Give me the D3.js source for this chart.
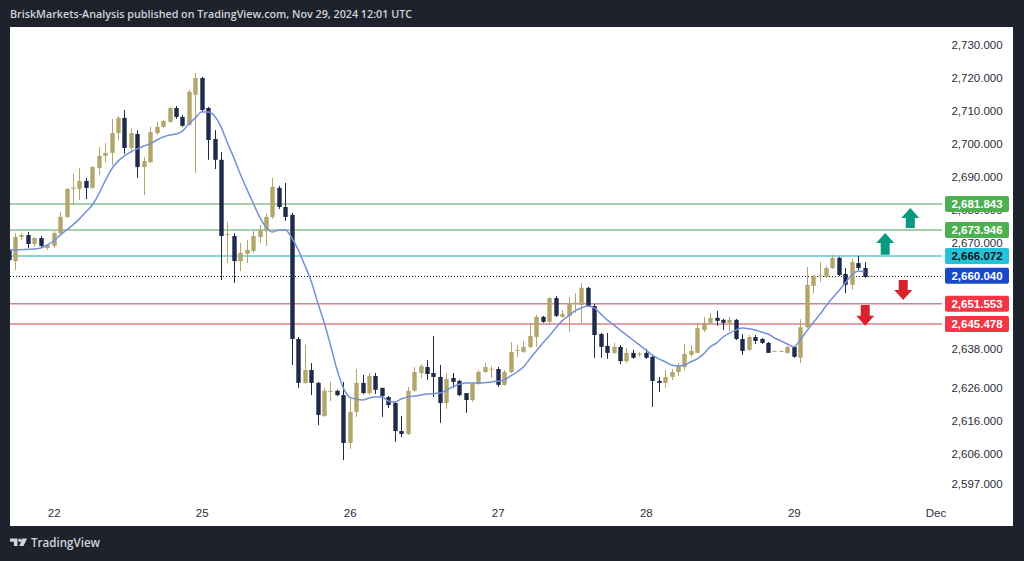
<!DOCTYPE html>
<html>
<head>
<meta charset="utf-8">
<script src="https://cdn.jsdelivr.net/npm/d3@7"></script>
<style>
  body { margin: 0; background: #1e222d; }
  svg { display: block; }
</style>
</head>
<body>
<div id="canvas"></div>
<script>
// hourly candles, XAUUSD-like
const opens = [
  2667.9, 2664.5, 2671.8, 2672.4, 2669.7, 2671.5, 2668.5, 2669.1, 2673.0, 2677.9,
  2686.4, 2686.4, 2688.8, 2686.7, 2692.7, 2696.4, 2697.3, 2703.3, 2707.9, 2698.8,
  2703.0, 2693.0, 2694.5, 2703.3, 2705.2, 2706.7, 2710.9, 2708.2, 2705.8, 2714.9,
  2720.0, 2710.9, 2701.5, 2695.2, 2672.4, 2672.1, 2664.5, 2666.7, 2667.6, 2671.8,
  2673.6, 2677.9, 2686.7, 2680.9, 2678.5, 2640.9, 2627.6, 2631.5, 2627.6, 2617.6,
  2624.9, 2625.2, 2623.9, 2609.4, 2618.8, 2627.6, 2624.5, 2629.7, 2626.1, 2623.3,
  2621.5, 2613.0, 2612.1, 2625.2, 2630.6, 2632.4, 2630.6, 2629.4, 2621.5, 2629.1,
  2628.2, 2624.5, 2622.4, 2627.3, 2630.9, 2631.8, 2631.8, 2627.0, 2630.9, 2637.4,
  2637.0, 2638.5, 2641.5, 2647.6, 2646.1, 2653.3, 2647.6, 2647.9, 2651.7, 2651.2,
  2656.4, 2650.9, 2642.4, 2638.8, 2636.7, 2638.5, 2634.2, 2636.7, 2636.3, 2636.7,
  2635.5, 2628.2, 2627.6, 2629.4, 2630.9, 2632.4, 2636.1, 2636.7, 2643.6, 2645.8,
  2647.3, 2646.7, 2645.8, 2646.7, 2640.9, 2637.6, 2641.5, 2640.9, 2639.7, 2637.2,
  2637.2, 2636.7, 2638.5, 2635.2, 2644.5, 2657.0, 2659.9, 2659.7, 2662.4, 2665.5,
  2660.6, 2657.3, 2663.9, 2662.4, 2659.9
];
const highs = [
  2668.8, 2673.0, 2673.0, 2673.3, 2671.8, 2672.1, 2669.7, 2673.6, 2679.4, 2686.7,
  2690.9, 2692.7, 2689.7, 2693.3, 2699.1, 2700.3, 2707.6, 2708.5, 2710.3, 2704.8,
  2704.2, 2696.1, 2705.2, 2706.7, 2707.3, 2711.2, 2711.5, 2708.8, 2716.4, 2721.5,
  2720.3, 2711.2, 2704.2, 2697.6, 2676.4, 2673.0, 2670.0, 2670.9, 2673.6, 2675.5,
  2678.8, 2689.7, 2687.3, 2688.2, 2679.1, 2641.5, 2639.1, 2633.6, 2627.9, 2626.1,
  2627.9, 2625.5, 2627.9, 2623.0, 2631.8, 2630.0, 2630.6, 2630.6, 2626.1, 2623.6,
  2621.8, 2617.6, 2626.4, 2632.4, 2633.3, 2634.5, 2641.8, 2633.0, 2630.6, 2630.6,
  2628.5, 2624.5, 2627.9, 2631.5, 2633.6, 2632.7, 2632.4, 2631.5, 2640.0, 2639.1,
  2640.3, 2645.5, 2648.2, 2647.9, 2653.6, 2653.9, 2649.7, 2653.6, 2654.8, 2657.9,
  2656.7, 2651.5, 2642.7, 2642.7, 2639.7, 2639.1, 2638.2, 2637.6, 2637.0, 2637.9,
  2635.8, 2629.4, 2631.5, 2631.8, 2633.6, 2639.4, 2639.1, 2645.8, 2647.6, 2648.8,
  2649.4, 2647.0, 2647.6, 2647.0, 2642.4, 2642.1, 2642.1, 2641.2, 2640.0, 2637.4,
  2637.4, 2638.8, 2638.8, 2646.9, 2662.7, 2660.3, 2664.2, 2663.0, 2666.4, 2665.8,
  2662.4, 2665.2, 2666.1, 2664.2, 2660.3
];
const lows = [
  2664.2, 2661.8, 2670.9, 2668.5, 2668.8, 2668.5, 2667.9, 2668.5, 2672.7, 2677.6,
  2681.5, 2683.0, 2683.3, 2686.4, 2690.6, 2694.5, 2693.6, 2701.2, 2697.0, 2697.3,
  2689.7, 2684.5, 2694.2, 2702.7, 2704.8, 2706.4, 2707.6, 2705.2, 2705.5, 2691.2,
  2709.7, 2695.2, 2692.4, 2658.8, 2663.9, 2657.9, 2661.5, 2663.9, 2667.0, 2670.0,
  2669.1, 2677.3, 2680.3, 2676.7, 2633.0, 2626.1, 2627.3, 2623.9, 2614.8, 2617.3,
  2622.1, 2623.6, 2604.2, 2607.6, 2617.3, 2624.2, 2623.9, 2624.2, 2617.3, 2620.0,
  2609.7, 2611.2, 2611.8, 2624.9, 2629.1, 2628.5, 2623.3, 2615.5, 2619.7, 2626.1,
  2623.6, 2618.5, 2621.8, 2627.0, 2630.6, 2629.1, 2626.4, 2626.7, 2630.6, 2635.5,
  2636.7, 2638.2, 2638.5, 2645.8, 2645.2, 2647.6, 2647.3, 2643.0, 2648.8, 2645.8,
  2650.6, 2635.2, 2635.2, 2634.9, 2636.4, 2633.3, 2633.6, 2634.9, 2635.5, 2634.9,
  2620.3, 2624.8, 2626.1, 2628.5, 2629.7, 2631.5, 2635.5, 2636.7, 2643.0, 2645.2,
  2644.9, 2643.6, 2643.3, 2640.6, 2636.1, 2637.3, 2639.4, 2639.4, 2636.7, 2637.1,
  2637.1, 2636.4, 2635.2, 2633.6, 2644.2, 2654.8, 2658.2, 2659.4, 2662.1, 2660.0,
  2654.8, 2655.8, 2661.8, 2659.4, 2659.7
];
const closes = [
  2664.8, 2671.8, 2672.4, 2669.7, 2671.5, 2669.1, 2669.4, 2673.0, 2677.9, 2686.4,
  2686.7, 2688.8, 2686.7, 2693.0, 2696.4, 2697.3, 2703.3, 2707.9, 2698.8, 2703.3,
  2693.0, 2694.8, 2703.6, 2705.2, 2707.0, 2710.9, 2708.2, 2705.5, 2715.8, 2720.0,
  2710.3, 2701.2, 2695.2, 2672.1, 2672.7, 2664.5, 2667.0, 2667.9, 2672.1, 2673.9,
  2677.9, 2687.0, 2680.9, 2677.9, 2640.9, 2627.6, 2631.5, 2627.6, 2617.9, 2625.2,
  2625.2, 2623.9, 2609.4, 2618.8, 2627.6, 2624.5, 2629.7, 2625.5, 2623.6, 2620.9,
  2613.0, 2612.1, 2625.2, 2630.9, 2632.7, 2630.3, 2629.4, 2621.5, 2628.8, 2627.9,
  2623.9, 2622.4, 2627.3, 2630.9, 2632.4, 2631.9, 2627.0, 2630.9, 2637.0, 2637.6,
  2638.5, 2641.8, 2647.6, 2646.1, 2653.3, 2647.9, 2648.5, 2651.8, 2651.9, 2656.4,
  2650.9, 2642.1, 2638.5, 2636.7, 2638.5, 2634.2, 2636.7, 2635.2, 2636.4, 2635.2,
  2628.2, 2627.6, 2629.4, 2630.9, 2632.7, 2636.4, 2637.3, 2644.2, 2645.8, 2647.3,
  2646.4, 2645.8, 2646.7, 2640.9, 2637.3, 2641.5, 2640.3, 2639.7, 2636.7, 2637.3,
  2637.3, 2638.5, 2635.5, 2644.5, 2657.3, 2660.0, 2660.1, 2662.4, 2665.5, 2660.3,
  2657.3, 2664.2, 2662.4, 2659.7, 2660.0
];

// moving average, read at candle indexes
const maIndex = [
  0, 4, 5, 6, 7, 8, 9, 10, 11, 12, 13, 14, 15, 16, 17, 18, 19, 20, 21, 22,
  23, 24, 25, 26, 27, 28, 29, 30, 31, 32, 33, 34, 35, 36, 37, 38, 39, 40, 41, 42,
  43, 44, 45, 46, 47, 48, 49, 50, 51, 52, 53, 54, 55, 56, 57, 58, 59, 60, 61, 62,
  63, 65, 67, 69, 71, 73, 75, 77, 78, 79, 80, 81, 82, 83, 84, 85, 86, 87, 88, 89,
  90, 91, 92, 93, 94, 95, 96, 97, 98, 99, 100, 101, 102, 103, 104, 105, 106, 107, 108, 109,
  110, 111, 112, 113, 114, 115, 116, 117, 118, 119, 120, 121, 122, 123, 124, 125, 126, 127, 128, 129,
  130, 131, 132, 133
];
const maValue = [
  2667.9, 2668.2, 2668.5, 2669.4, 2670.6, 2672.4, 2673.9, 2675.5, 2677.3, 2679.4, 2681.5, 2684.8, 2688.8, 2692.4, 2694.8, 2696.4, 2697.6, 2698.5, 2699.4, 2700.0,
  2701.2, 2702.1, 2702.7, 2703.0, 2703.9, 2706.1, 2707.9, 2709.7, 2709.7, 2708.5, 2705.2, 2700.3, 2695.8, 2690.9, 2686.4, 2682.1, 2677.9, 2674.8, 2673.3, 2673.9,
  2673.9, 2671.5, 2667.9, 2663.3, 2658.5, 2652.1, 2646.1, 2639.1, 2631.8, 2626.1, 2623.3, 2622.7, 2622.4, 2623.0, 2623.3, 2623.3, 2622.1, 2621.8, 2622.7, 2623.3,
  2623.6, 2624.2, 2624.5, 2626.4, 2627.6, 2627.6, 2627.9, 2628.5, 2629.7, 2630.9, 2632.4, 2634.9, 2637.3, 2639.7, 2641.8, 2644.2, 2646.4, 2647.9, 2649.4, 2650.3,
  2650.9, 2650.3, 2648.5, 2646.7, 2645.2, 2643.6, 2642.1, 2640.6, 2639.1, 2637.6, 2636.1, 2634.9, 2634.0, 2633.0, 2632.7, 2633.0, 2634.0, 2634.9, 2636.4, 2638.5,
  2639.7, 2641.5, 2642.7, 2643.6, 2644.2, 2644.0, 2643.6, 2643.0, 2642.4, 2641.2, 2640.3, 2639.4, 2638.5, 2640.6, 2643.3, 2645.8, 2648.2, 2650.9, 2653.3, 2655.5,
  2657.9, 2660.3, 2661.5, 2661.2
];

// x axis: day labels at candle indexes
const dayTickIndex = [7, 30, 53, 76, 99, 122, 144];
const dayTickLabel = ["22", "25", "26", "27", "28", "29", "Dec"];

// price axis labels
const priceTicks = [2730, 2720, 2710, 2700, 2690, 2680, 2670, 2638, 2626, 2616, 2606, 2597];

// horizontal levels drawn on the chart
const levelValues = [2681.843, 2673.946, 2666.072, 2651.553, 2645.478];
const levelKinds = ["res", "res", "pivot", "sup", "sup"];
const lastPrice = 2660.040;

// arrow annotations: candle index, tip price, tail price
const arrowIndex = [140.1, 136.2, 139.0, 133.1];
const arrowTip = [2680.6, 2673.0, 2652.7, 2644.9];
const arrowTail = [2674.5, 2666.4, 2658.8, 2651.2];

const title = "BriskMarkets-Analysis published on TradingView.com, Nov 29, 2024 12:01 UTC";

// ---- styles / layout ----
const W = 1024, H = 561;
const panel = {left: 10, top: 27, right: 1013, bottom: 526};
const plot = {left: 10, top: 27, right: 942, bottom: 503};
const colors = {
  frame: "#1e222d",
  up: "#b3a66a",
  down: "#1f2a48",
  ma: "#7390d8",
  res: "#86c389",
  pivot: "#5cc8d9",
  sup: "#dc7f8c",
  resBox: "#4caf50",
  pivotBox: "#22c3d8",
  supBox: "#f23645",
  lastBox: "#1848cc",
  arrowUp: "#089981",
  arrowDown: "#d8232f",
  text: "#131722",
  light: "#d1d4dc"
};
const font = "'Liberation Sans', Arial, sans-serif";

const svg = d3.select("#canvas").append("svg")
  .attr("width", W)
  .attr("height", H)
  .attr("viewBox", "0 0 " + W + " " + H);

svg.append("rect").attr("width", W).attr("height", H).attr("fill", colors.frame);
svg.append("rect")
  .attr("x", panel.left).attr("y", panel.top)
  .attr("width", panel.right - panel.left).attr("height", panel.bottom - panel.top)
  .attr("fill", "#ffffff");

// header
svg.append("text")
  .attr("x", 10).attr("y", 18)
  .attr("font-family", "'Open Sans', sans-serif")
  .attr("font-weight", 600)
  .attr("font-size", "11.5px")
  .attr("fill", colors.light)
  .attr("textLength", 402)
  .attr("lengthAdjust", "spacingAndGlyphs")
  .text(title);

// scales
const xScale = d3.scaleLinear().domain([0, 144]).range([8.6, 935.4]);
const yScale = d3.scaleLinear().domain([2591.2, 2735.45]).range([plot.bottom, plot.top]);

svg.append("clipPath").attr("id", "plotClip")
  .append("rect")
  .attr("x", plot.left).attr("y", plot.top)
  .attr("width", plot.right - plot.left).attr("height", plot.bottom - plot.top);

const g = svg.append("g").attr("clip-path", "url(#plotClip)");

// levels
g.selectAll("line.level")
  .data(levelValues)
  .enter().append("line")
  .attr("class", "level")
  .attr("x1", plot.left).attr("x2", plot.right)
  .attr("y1", d => yScale(d)).attr("y2", d => yScale(d))
  .attr("stroke", (d, i) => colors[levelKinds[i]])
  .attr("stroke-width", 1.5);

g.append("line")
  .attr("x1", plot.left).attr("x2", plot.right)
  .attr("y1", Math.round(yScale(lastPrice)) + 0.5).attr("y2", Math.round(yScale(lastPrice)) + 0.5)
  .attr("stroke", colors.text)
  .attr("stroke-width", 1)
  .attr("stroke-dasharray", "1 2");

// candles
const idx = d3.range(opens.length);
const bodyW = 4.4;
const candle = g.selectAll("g.candle")
  .data(idx)
  .enter().append("g")
  .attr("class", "candle");

candle.append("line")
  .attr("x1", i => Math.round(xScale(i)) + 0.5)
  .attr("x2", i => Math.round(xScale(i)) + 0.5)
  .attr("y1", i => yScale(highs[i]))
  .attr("y2", i => yScale(lows[i]))
  .attr("stroke", i => closes[i] >= opens[i] ? colors.up : colors.down)
  .attr("stroke-width", 1);

candle.append("rect")
  .attr("x", i => Math.round(xScale(i)) + 0.5 - bodyW / 2)
  .attr("y", i => yScale(Math.max(opens[i], closes[i])))
  .attr("width", bodyW)
  .attr("height", i => Math.max(1, yScale(Math.min(opens[i], closes[i])) - yScale(Math.max(opens[i], closes[i]))))
  .attr("fill", i => closes[i] >= opens[i] ? colors.up : colors.down);

// moving average
const maLine = d3.line()
  .x(k => xScale(maIndex[k]))
  .y(k => yScale(maValue[k]))
  .curve(d3.curveMonotoneX);

g.append("path")
  .attr("d", maLine(d3.range(maIndex.length)))
  .attr("fill", "none")
  .attr("stroke", colors.ma)
  .attr("stroke-width", 1.5);

// arrows
const arrowW = 18, headH = 10, shaftW = 9;
arrowIndex.forEach((ai, k) => {
  const cx = xScale(ai);
  const yTip = yScale(arrowTip[k]);
  const yTail = yScale(arrowTail[k]);
  const dir = yTip < yTail ? 1 : -1; // 1 = pointing up
  const yBase = yTip + dir * headH;
  const p = d3.path();
  p.moveTo(cx, yTip);
  p.lineTo(cx + arrowW / 2, yBase);
  p.lineTo(cx + shaftW / 2, yBase);
  p.lineTo(cx + shaftW / 2, yTail);
  p.lineTo(cx - shaftW / 2, yTail);
  p.lineTo(cx - shaftW / 2, yBase);
  p.lineTo(cx - arrowW / 2, yBase);
  p.closePath();
  g.append("path")
    .attr("d", p.toString())
    .attr("fill", dir === 1 ? colors.arrowUp : colors.arrowDown);
});

// price axis labels
const axisG = svg.append("g")
  .attr("transform", "translate(977,0)");
axisG.call(d3.axisRight(yScale)
    .tickValues(priceTicks)
    .tickSize(0)
    .tickPadding(0)
    .tickFormat(d3.format(",.3f")))
  .call(a => a.select(".domain").remove());
axisG.selectAll("text")
  .attr("text-anchor", "middle")
  .attr("font-family", font)
  .attr("font-size", "11.5px")
  .attr("fill", "#2a2e39");

// level boxes on the price axis
const boxes = levelValues.map((v, i) => ({v: v, fill: colors[levelKinds[i] + "Box"], ink: levelKinds[i] === "pivot" ? colors.text : "#ffffff"}));
boxes.push({v: lastPrice, fill: colors.lastBox, ink: "#ffffff"});

const boxG = svg.selectAll("g.pbox")
  .data(boxes)
  .enter().append("g")
  .attr("class", "pbox")
  .attr("transform", d => "translate(945," + yScale(d.v) + ")");
boxG.append("rect")
  .attr("x", 0).attr("y", -8)
  .attr("width", 64).attr("height", 16)
  .attr("rx", 2)
  .attr("fill", d => d.fill);
boxG.append("text")
  .attr("x", 32).attr("y", 4.2)
  .attr("text-anchor", "middle")
  .attr("font-family", font)
  .attr("font-weight", "bold")
  .attr("font-size", "11.5px")
  .attr("fill", d => d.ink)
  .text(d => d3.format(",.3f")(d.v));

// time axis
const xAxisG = svg.append("g")
  .attr("transform", "translate(0," + plot.bottom + ")");
xAxisG.call(d3.axisBottom(xScale)
    .tickValues(dayTickIndex)
    .tickSize(0)
    .tickPadding(6)
    .tickFormat((d, i) => dayTickLabel[i]))
  .call(a => a.select(".domain").remove());
xAxisG.selectAll("text")
  .attr("font-family", font)
  .attr("font-size", "11.5px")
  .attr("fill", "#2a2e39");

// footer logo
const logo = svg.append("g").attr("fill", colors.light);
logo.append("path").attr("d", "M10 538.5h7.5v7.5h-3.6v-4.2H10z");
logo.append("circle").attr("cx", 20).attr("cy", 540.2).attr("r", 1.7);
logo.append("path").attr("d", "M22.5 538.5h4.6l-3.6 7.5h-4.3z");
logo.append("text")
  .attr("x", 31).attr("y", 546.5)
  .attr("font-family", "'Open Sans', sans-serif")
  .attr("font-weight", 600)
  .attr("font-size", "12.5px")
  .attr("textLength", 69)
  .attr("lengthAdjust", "spacingAndGlyphs")
  .text("TradingView");
</script>
</body>
</html>
